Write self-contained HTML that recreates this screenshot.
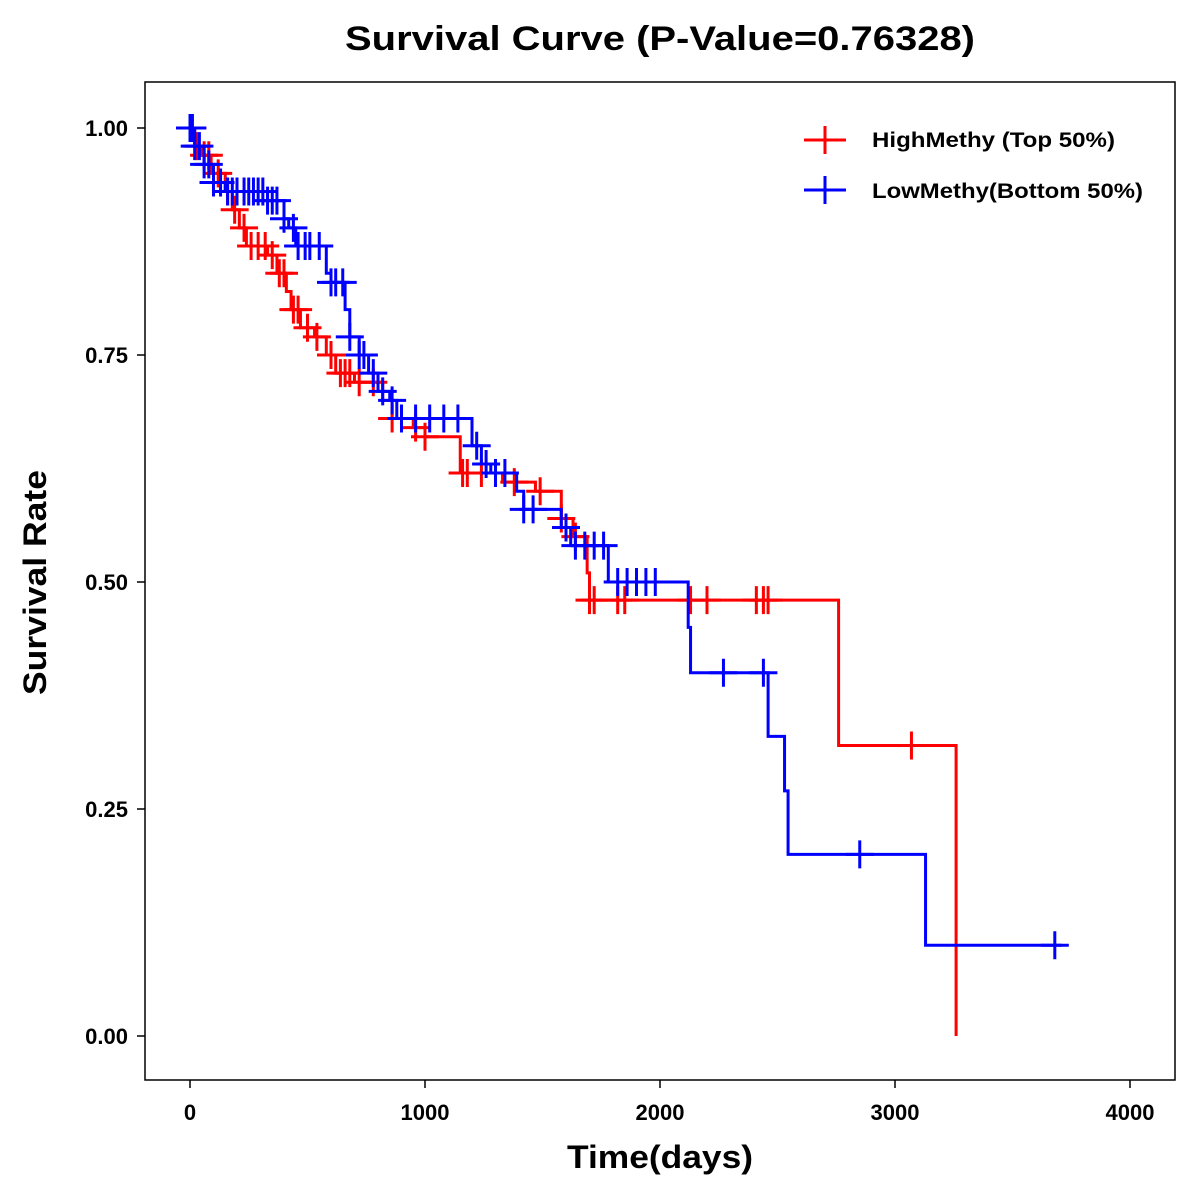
<!DOCTYPE html>
<html><head><meta charset="utf-8"><style>
body{margin:0;background:#fff;}
svg{display:block;font-family:"Liberation Sans",Arial,sans-serif;}
</style></head><body>
<svg id="chart" width="1200" height="1200">
<rect x="0" y="0" width="1200" height="1200" fill="#fff"/>
<text x="345" y="50" font-size="34" font-weight="bold" textLength="630" lengthAdjust="spacingAndGlyphs">Survival Curve (P-Value=0.76328)</text>
<rect x="145" y="82" width="1030" height="998" fill="none" stroke="#000" stroke-width="1.5"/>
<g id="xticks"></g>
<g id="yticks"></g>
<text x="567" y="1168" font-size="32" font-weight="bold" textLength="186" lengthAdjust="spacingAndGlyphs">Time(days)</text>
<text transform="translate(46,695) rotate(-90)" font-size="32" font-weight="bold" textLength="225" lengthAdjust="spacingAndGlyphs">Survival Rate</text>
<g id="series"></g>
<g>
  <g>
    <line x1="804" y1="140" x2="846" y2="140" stroke="#f00" stroke-width="3"/>
    <line x1="825" y1="126" x2="825" y2="154" stroke="#f00" stroke-width="3"/>
    <text x="872" y="147" font-size="21" font-weight="bold" textLength="243" lengthAdjust="spacingAndGlyphs">HighMethy (Top 50%)</text>
  </g>
  <g>
    <line x1="804" y1="190" x2="846" y2="190" stroke="#00f" stroke-width="3"/>
    <line x1="825" y1="176" x2="825" y2="204" stroke="#00f" stroke-width="3"/>
    <text x="872" y="198" font-size="21" font-weight="bold" textLength="271" lengthAdjust="spacingAndGlyphs">LowMethy(Bottom 50%)</text>
  </g>
</g>
</svg>
<script>
const xTicks=[0,1000,2000,3000,4000];
const yTicks=[0,0.25,0.5,0.75,1.0];
const yTickLabels=["0.00","0.25","0.50","0.75","1.00"];
const highTimes=[0,20,50,90,150,180,210,240,330,370,410,430,470,530,580,620,700,820,860,950,1000,1150,1330,1470,1580,1630,1690,1700,2760,3260];
const highSurv=[1.0,0.98,0.97,0.95,0.93,0.91,0.89,0.87,0.86,0.84,0.82,0.80,0.78,0.77,0.75,0.73,0.72,0.70,0.68,0.67,0.66,0.62,0.61,0.60,0.57,0.55,0.51,0.48,0.32,0.0];
const highEnd=3260;
const highCensor=[10,30,60,80,120,160,190,230,260,290,320,350,380,400,440,460,500,540,600,640,660,680,720,780,860,900,960,1000,1160,1180,1240,1300,1380,1490,1580,1640,1700,1720,1820,1850,2130,2200,2410,2440,2460,3070];
const lowTimes=[0,20,60,100,150,330,400,420,450,580,600,660,680,720,760,800,850,880,1200,1240,1280,1390,1420,1580,1620,1780,2120,2130,2460,2530,2545,3130];
const lowSurv=[1.0,0.98,0.96,0.94,0.93,0.92,0.90,0.89,0.87,0.84,0.83,0.80,0.77,0.75,0.73,0.71,0.70,0.68,0.65,0.63,0.62,0.60,0.58,0.56,0.54,0.50,0.45,0.40,0.33,0.27,0.20,0.10];
const lowEnd=3710;
const lowCensor=[0,10,20,40,60,80,100,130,160,180,200,230,250,270,290,310,330,350,370,400,440,460,490,510,550,600,620,650,680,720,740,780,820,860,900,960,1020,1080,1140,1220,1260,1300,1340,1420,1460,1600,1640,1680,1720,1760,1820,1860,1900,1940,1980,2270,2440,2850,3680];

const sx=t=>190+t*0.235;
const sy=v=>1036-v*908;
const NS="http://www.w3.org/2000/svg";
const xg=document.getElementById('xticks'), yg=document.getElementById('yticks'), sg=document.getElementById('series');

xTicks.forEach(t=>{
  const l=document.createElementNS(NS,'line');
  l.setAttribute('x1',sx(t));l.setAttribute('x2',sx(t));l.setAttribute('y1',1080);l.setAttribute('y2',1088);
  l.setAttribute('stroke','#000');l.setAttribute('stroke-width','1.5');
  
  
  xg.appendChild(l);
  const tx=document.createElementNS(NS,'text');
  tx.setAttribute('x',sx(t));tx.setAttribute('y',1120);tx.setAttribute('text-anchor','middle');
  tx.setAttribute('font-size','22');tx.setAttribute('font-weight','bold');tx.textContent=t;
  
  
  xg.appendChild(tx);
});
yTicks.forEach((v,i)=>{
  const l=document.createElementNS(NS,'line');
  l.setAttribute('x1',137);l.setAttribute('x2',145);l.setAttribute('y1',sy(v));l.setAttribute('y2',sy(v));
  l.setAttribute('stroke','#000');l.setAttribute('stroke-width','1.5');
  
  
  yg.appendChild(l);
  const tx=document.createElementNS(NS,'text');
  tx.setAttribute('x',128);tx.setAttribute('y',sy(v)+8);tx.setAttribute('text-anchor','end');
  tx.setAttribute('font-size','22');tx.setAttribute('font-weight','bold');tx.textContent=yTickLabels[i];
  
  
  yg.appendChild(tx);
});

function stepAt(times,surv,t){let s=surv[0];for(let i=0;i<times.length;i++){if(times[i]<=t)s=surv[i];}return s;}
function drawSeries(times,surv,end,cens,color,name){
  const g=document.createElementNS(NS,'g');
  
  
  let d='M'+sx(times[0])+','+sy(surv[0]);
  for(let i=1;i<times.length;i++){d+=' H'+sx(times[i])+' V'+sy(surv[i]);}
  if(end>times[times.length-1]) d+=' H'+sx(end);
  const p=document.createElementNS(NS,'path');
  p.setAttribute('d',d);p.setAttribute('fill','none');p.setAttribute('stroke',color);p.setAttribute('stroke-width','3');
  
  
  g.appendChild(p);
  cens.forEach(t=>{
    const x=sx(t),y=sy(stepAt(times,surv,t));
    const c=document.createElementNS(NS,'path');
    c.setAttribute('d','M'+(x-14)+','+y+' H'+(x+14)+' M'+x+','+(y-14)+' V'+(y+14));
    c.setAttribute('stroke',color);c.setAttribute('stroke-width','3');
    
    
    g.appendChild(c);
  });
  sg.appendChild(g);
}
drawSeries(highTimes,highSurv,highEnd,highCensor,'#f00','high-methy-curve');
drawSeries(lowTimes,lowSurv,lowEnd,lowCensor,'#00f','low-methy-curve');
</script>
</body></html>
